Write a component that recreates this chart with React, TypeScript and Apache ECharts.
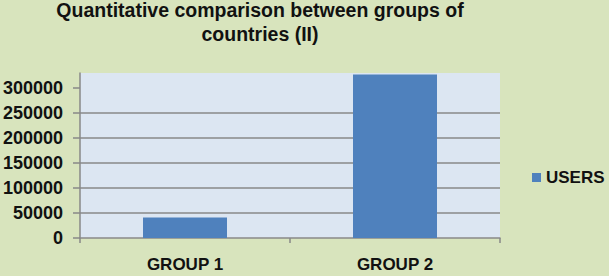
import React, { useEffect, useRef } from "react";
import * as echarts from "echarts";

const titleLines = ["Quantitative comparison between groups of", "countries (II)"];
const categories = ["GROUP 1", "GROUP 2"];
const seriesName = "USERS";
const users = [41000, 327000];
const yTicks = [0, 50000, 100000, 150000, 200000, 250000, 300000];
const yMax = 330000;

const FONT = "'Liberation Sans', Arial, sans-serif";
const GRID_COLOR = "#898989";

export default function App() {
  const ref = useRef<HTMLDivElement>(null);
  useEffect(() => {
    if (!ref.current) return;
    const chart = echarts.init(ref.current, undefined, { renderer: "svg" });
    chart.setOption({
      animation: false,
      backgroundColor: "#d8e4bd",
      textStyle: { fontFamily: FONT },
      graphic: [
        {
          type: "text",
          x: 260,
          y: -2,
          style: {
            text: titleLines.join("\n"),
            font: `bold 19.5px ${FONT}`,
            fill: "#111",
            textAlign: "center",
            textVerticalAlign: "top",
            lineHeight: 24,
          },
        },
      ],
      legend: {
        data: [seriesName],
        left: 527,
        top: 164,
        icon: "rect",
        itemWidth: 9,
        itemHeight: 9,
        itemGap: 5,
        textStyle: { fontSize: 17, fontWeight: "bold", color: "#111", fontFamily: FONT },
      },
      grid: {
        left: 80,
        right: 109,
        top: 73,
        bottom: 38,
        show: true,
        backgroundColor: "#dce6f2",
        borderWidth: 0,
        outerBoundsMode: "none",
      },
      xAxis: {
        type: "category",
        data: categories,
        boundaryGap: true,
        axisLine: { lineStyle: { color: GRID_COLOR, width: 1.5 } },
        axisTick: { show: true, length: 5, lineStyle: { color: GRID_COLOR, width: 1.5 } },
        axisLabel: {
          fontSize: 17,
          fontWeight: "bold",
          color: "#111",
          margin: 18,
          fontFamily: FONT,
        },
      },
      yAxis: {
        type: "value",
        min: 0,
        max: yMax,
        interval: 50000,
        axisLine: { show: true, lineStyle: { color: GRID_COLOR, width: 1.5 } },
        axisTick: {
          show: true,
          length: 7,
          lineStyle: { color: GRID_COLOR, width: 1.5 },
          customValues: yTicks,
        },
        axisLabel: {
          fontSize: 18,
          fontWeight: "bold",
          color: "#111",
          margin: 17,
          fontFamily: FONT,
          customValues: yTicks,
          formatter: (v: number) => String(v),
        },
        splitLine: {
          show: true,
          showMinLine: false,
          showMaxLine: false,
          lineStyle: { color: GRID_COLOR, width: 1.5 },
        },
      },
      series: [
        {
          name: seriesName,
          type: "bar",
          data: users,
          barWidth: "40%",
          itemStyle: { color: "#4f81bd" },
        },
      ],
    });
    return () => chart.dispose();
  }, []);
  return (
    <div
      ref={ref}
      style={{ position: "absolute", left: 0, top: 0, width: 609, height: 276 }}
    />
  );
}
